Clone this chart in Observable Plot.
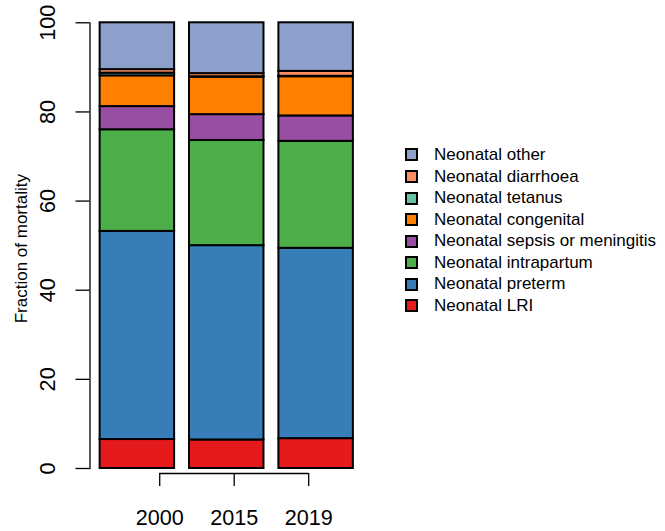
<!DOCTYPE html>
<html><head><meta charset="utf-8">
<script src="https://cdn.jsdelivr.net/npm/d3@7"></script>
<script src="https://cdn.jsdelivr.net/npm/@observablehq/plot@0.6"></script>
<style>
body{margin:0;background:#fff;}
#wrap{position:relative;width:665px;height:531px;font-family:"Liberation Sans",Arial,Helvetica,sans-serif;}
#legend{position:absolute;left:405px;top:144.2px;}
.row{display:flex;align-items:center;height:21.55px;font-size:17px;color:#000;white-space:nowrap;}
.sw{width:9px;height:9px;border:2px solid #000;margin-right:16px;flex:none;}
</style></head><body><div id="wrap"></div>
<script>
const years = ["2000", "2015", "2019"];
const causes = ["Neonatal LRI", "Neonatal preterm", "Neonatal intrapartum", "Neonatal sepsis or meningitis", "Neonatal congenital", "Neonatal tetanus", "Neonatal diarrhoea", "Neonatal other"];
const colors = ["#E41A1C", "#377EB8", "#4DAF4A", "#984EA3", "#FF7F00", "#66C2A5", "#FC8D62", "#8DA0CB"];
const v2000 = [6.5, 46.7, 22.8, 5.2, 6.9, 0.6, 0.8, 10.5];
const v2015 = [6.4, 43.6, 23.6, 5.8, 8.4, 0.1, 0.7, 11.4];
const v2019 = [6.7, 42.7, 24.0, 5.7, 8.8, 0.1, 1.1, 10.9];
const yTicks = [0, 20, 40, 60, 80, 100];
const xTicks = [1, 2, 3];
const yLabel = "Fraction of mortality";

const barWidth = 1, barSpace = 0.2;
const series = [v2000, v2015, v2019];
const rows = [];
series.forEach((vals, i) => {
  const x1 = barSpace + i * (barWidth + barSpace);
  let acc = 0;
  vals.forEach((v, j) => {
    rows.push({year: years[i], cause: causes[j], x1, x2: x1 + barWidth, y1: acc, y2: acc + v});
    acc += v;
  });
});
const xMin = barSpace, xMax = barSpace + series.length * (barWidth + barSpace) - barSpace;
const pad = (xMax - xMin) * 0.04;

const chart = Plot.plot({
  width: 665, height: 531,
  marginLeft: 89.5, marginRight: 302, marginTop: 22.3, marginBottom: 63,
  x: {domain: [xMin - pad, xMax + pad], axis: null},
  y: {domain: [0, 100], axis: null},
  color: {domain: causes, range: colors},
  style: {fontFamily: "Liberation Sans, Arial, Helvetica, sans-serif", background: "white", color: "black"},
  marks: [
    Plot.rect(rows, {x1: "x1", x2: "x2", y1: "y1", y2: "y2", fill: "cause", stroke: "black", strokeWidth: 2}),
    Plot.frame({anchor: "left", stroke: "black", strokeWidth: 1.3}),
    Plot.axisY(yTicks, {tickSize: 14, tickRotate: -90, tickPadding: 21, fontSize: 21.6, strokeWidth: 1.3, label: null}),
    Plot.ruleY([0], {x1: () => d3.min(xTicks), x2: () => d3.max(xTicks), dy: 5, stroke: "black", strokeWidth: 1.3}),
    Plot.axisX(xTicks, {tickSize: 13, dy: 5, tickPadding: 23, fontSize: 21.6, strokeWidth: 1.3, tickFormat: d => years[d - 1], label: null}),
    Plot.text([yLabel], {text: d => d, frameAnchor: "left", textAnchor: "middle", rotate: -90, dx: -75.5, dy: 3, lineAnchor: "top", fontSize: 17})
  ]
});
const wrap = document.getElementById("wrap");
wrap.appendChild(chart);

const legend = document.createElement("div");
legend.id = "legend";
causes.slice().reverse().forEach(c => {
  const row = document.createElement("div");
  row.className = "row";
  const sw = document.createElement("div");
  sw.className = "sw";
  sw.style.background = colors[causes.indexOf(c)];
  const t = document.createElement("span");
  t.textContent = c;
  row.appendChild(sw);
  row.appendChild(t);
  legend.appendChild(row);
});
wrap.appendChild(legend);
</script>
</body></html>
